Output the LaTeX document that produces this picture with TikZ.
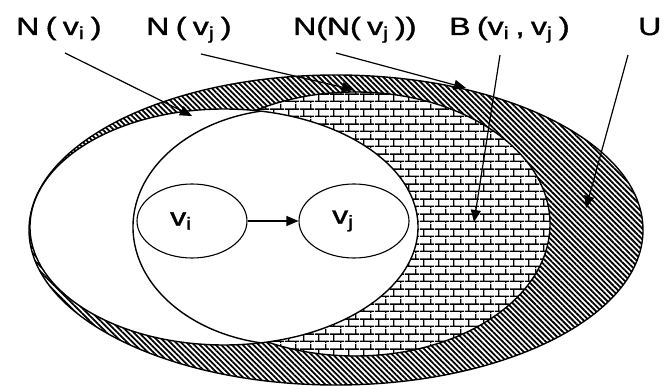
\documentclass[tikz,border=0pt]{standalone}
\usepackage{fontspec}
\setmainfont[AutoFakeBold=1.3]{Liberation Sans}
\usetikzlibrary{patterns,patterns.meta,arrows.meta,shapes.geometric}

\newcommand\mylblfont{\fontsize{25}{30}\selectfont\bfseries\spaceskip=0.2em\relax}

\pgfdeclarepatternformonly{mybricks}{\pgfpointorigin}{\pgfqpoint{15pt}{14.6pt}}{\pgfqpoint{15pt}{14.6pt}}{%
  \pgfsetlinewidth{1.4pt}%
  \pgfpathmoveto{\pgfqpoint{0pt}{1.8pt}}\pgfpathlineto{\pgfqpoint{15pt}{1.8pt}}%
  \pgfpathmoveto{\pgfqpoint{0pt}{9.1pt}}\pgfpathlineto{\pgfqpoint{15pt}{9.1pt}}%
  \pgfpathmoveto{\pgfqpoint{4pt}{1.8pt}}\pgfpathlineto{\pgfqpoint{4pt}{9.1pt}}%
  \pgfpathmoveto{\pgfqpoint{11.5pt}{9.1pt}}\pgfpathlineto{\pgfqpoint{11.5pt}{14.6pt}}%
  \pgfpathmoveto{\pgfqpoint{11.5pt}{0pt}}\pgfpathlineto{\pgfqpoint{11.5pt}{1.8pt}}%
  \pgfusepath{stroke}}

\tikzset{
  setline/.style={line width=1.4pt},
  hatchfill/.style={pattern={Lines[angle=-45,distance=3.8pt,line width=1.8pt]}},
  brickfill/.style={pattern=mybricks},
  lbl/.style={inner sep=0pt, font=\mylblfont, xscale=1.28, transform shape},
  vert/.style={ellipse, draw, line width=1.1pt, fill=white, minimum width=110pt, minimum height=74pt, inner sep=0pt},
  ptr/.style={line width=1.2pt, -{Triangle[length=12pt,width=10pt]}}
}

\begin{document}
\begin{tikzpicture}[x=1pt,y=-1pt]
\useasboundingbox (0,0) rectangle (672,387);
\fill[white] (0,0) rectangle (672,387);

% U
\fill[hatchfill] (336,230) ellipse [x radius=307pt, y radius=155pt];
\draw[setline] (336,230) ellipse [x radius=307pt, y radius=155pt];
% N(N(vj))
\fill[white] (355,224) ellipse [x radius=195pt, y radius=132pt];
\fill[brickfill] (355,224) ellipse [x radius=195pt, y radius=132pt];
\draw[setline] (355,224) ellipse [x radius=195pt, y radius=132pt];
% N(vi)
\fill[white] (224,227) ellipse [x radius=194pt, y radius=118pt];
\draw[setline] (224,227) ellipse [x radius=194pt, y radius=118pt];
% N(vj), clipped to N(vi)
\begin{scope}
  \clip (224,227) ellipse [x radius=194pt, y radius=118pt];
  \draw[setline] (291,227) ellipse [x radius=158pt, y radius=118pt];
\end{scope}

% vertices
\node[vert] (vi) at (192,221) {};
\node[vert] (vj) at (354,221) {};
\node[lbl] (tvi) at (181,221) {v\textsubscript{i}};
\node[lbl] (tvj) at (343,221) {v\textsubscript{j}};
\draw[ptr] (vi) -- (vj);

% labels
\node[lbl, anchor=base west] (L1) at (16,35) {N ( v\textsubscript{i} )};
\node[lbl, anchor=base west] (L2) at (146,35) {N ( v\textsubscript{j} )};
\node[lbl, anchor=base west] (L3) at (293,35) {N(N( v\textsubscript{j} ))};
\node[lbl, anchor=base west] (L4) at (449,35) {B (v\textsubscript{i} , v\textsubscript{j} )};
\node[lbl, anchor=base west] (L5) at (638,35) {U};

\coordinate (s1) at (65,53);   \coordinate (t1) at (192,116);
\coordinate (s2) at (201,54);  \coordinate (t2) at (354,90);
\coordinate (s3) at (336,53);  \coordinate (t3) at (466,88);
\coordinate (s4) at (500,55);  \coordinate (t4) at (474,222);
\coordinate (s5) at (628,55);  \coordinate (t5) at (586,208);

\draw[ptr] (s1) -- (t1);
\draw[ptr] (s2) -- (t2);
\draw[ptr] (s3) -- (t3);
\draw[ptr] (s4) -- (t4);
\draw[ptr] (s5) -- (t5);
\end{tikzpicture}
\end{document}
